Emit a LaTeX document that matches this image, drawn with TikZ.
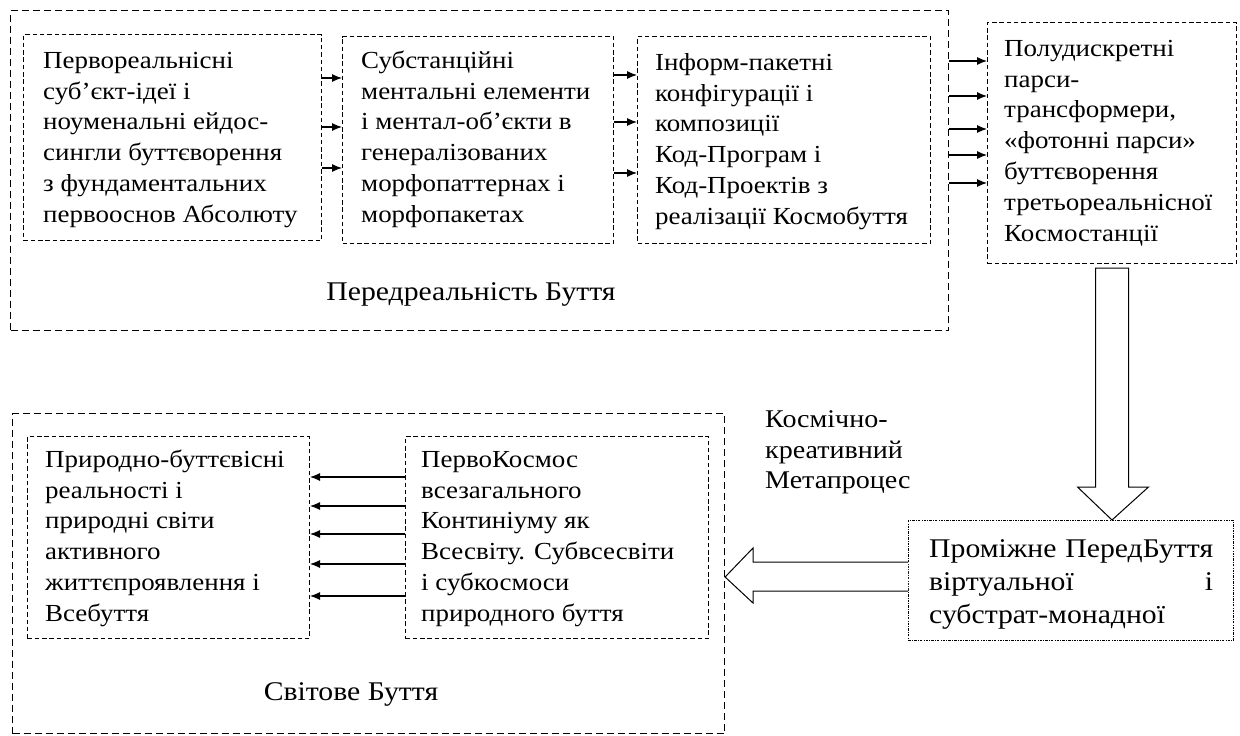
\documentclass[tikz,border=0pt]{standalone}
\usepackage{fontspec}
\setmainfont[FakeStretch=1.1]{Liberation Serif}
\usetikzlibrary{arrows.meta}
\newcommand{\mfs}{\fontsize{24.5}{30.8}\selectfont}
\newcommand{\lfs}{\fontsize{27}{30.8}\selectfont}
\newcommand{\kfs}{\fontsize{25.5}{30.8}\selectfont}
\newcommand{\bfs}{\fontsize{27}{33}\selectfont}
\tikzset{
  outerbox/.style={draw, line width=1.1pt, dash pattern=on 7pt off 4pt},
  innerbox/.style={draw, line width=1pt, dash pattern=on 4.5pt off 2.8pt},
  dotbox/.style={draw, line width=0.8pt, dash pattern=on 2.5pt off 1.2pt on 0.8pt off 1.2pt},
  txt/.style={anchor=north west, inner sep=0pt, align=left, font=\mfs, yshift=21.56pt},
  ktxt/.style={anchor=north west, inner sep=0pt, align=left, font=\kfs, yshift=21.56pt},
  btxt/.style={anchor=north west, inner sep=0pt, align=left, font=\bfs, yshift=23.1pt},
  lbl/.style={anchor=base, inner sep=0pt, font=\lfs},
  arr/.style={line width=1.1pt, -{Latex[length=10pt,width=8pt]}},
  fatarrow/.style={draw, line width=1pt, fill=white}
}
\begin{document}
\begin{tikzpicture}[x=1pt,y=-1pt]
\useasboundingbox (0,0) rectangle (1240,736);
% top group
\node[outerbox, anchor=north west, minimum width=938pt, minimum height=320pt, inner sep=0pt] (top) at (10,10) {};
\node[innerbox, anchor=north west, minimum width=298pt, minimum height=206pt, inner sep=0pt] (b1) at (23,34) {};
\node[innerbox, anchor=north west, minimum width=271pt, minimum height=207pt, inner sep=0pt] (b2) at (342,36) {};
\node[innerbox, anchor=north west, minimum width=293pt, minimum height=207pt, inner sep=0pt] (b3) at (637,36) {};
\node[innerbox, anchor=north west, minimum width=249pt, minimum height=241pt, inner sep=0pt] (b4) at (987,22) {};

\node[txt] (t1) at (43,68) {\strut Первореальнісні\\суб’єкт-ідеї і\\ноуменальні ейдос-\\сингли буттєворення\\з фундаментальних\\первооснов Абсолюту};
\node[txt] (t2) at (361,68) {\strut Субстанційні\\ментальні елементи\\і ментал-об’єкти в\\генералізованих\\морфопаттернах і\\морфопакетах};
\node[txt] (t3) at (655,70) {\strut Інформ-пакетні\\конфігурації і\\композиції\\Код-Програм і\\Код-Проектів з\\реалізації Космобуття};
\node[txt] (t4) at (1004,56) {\strut Полудискретні\\парси-\\трансформери,\\«фотонні парси»\\буттєворення\\третьореальнісної\\Космостанції};
\node[lbl] (l1) at (471,300) {Передреальність Буття};

\foreach \yy in {78,127,168} \draw[arr] (b1.east |- 0,\yy) -- (b2.west |- 0,\yy);
\foreach \yy in {75,122,173} \draw[arr] (b2.east |- 0,\yy) -- (b3.west |- 0,\yy);
\foreach \yy in {61,96,129,155,183} \draw[arr] (top.east |- 0,\yy) -- (b4.west |- 0,\yy);

% bottom group
\node[outerbox, anchor=north west, minimum width=712pt, minimum height=320pt, inner sep=0pt] (bot) at (12,413) {};
\node[innerbox, anchor=north west, minimum width=282pt, minimum height=202pt, inner sep=0pt] (ba) at (27,436) {};
\node[innerbox, anchor=north west, minimum width=303pt, minimum height=202pt, inner sep=0pt] (bb) at (405,436) {};
\node[txt] (ta) at (45,467) {\strut Природно-буттєвісні\\реальності і\\природні світи\\активного\\життєпроявлення і\\Всебуття};
\node[txt] (tb) at (421,467) {\strut ПервоКосмос\\всезагального\\Континіуму як\\Всесвіту. Субвсесвіти\\і субкосмоси\\природного буття};
\node[lbl] (l2) at (351,700) {Світове Буття};
\foreach \yy in {477,506,534,564,596} \draw[arr] (bb.west |- 0,\yy) -- (ba.east |- 0,\yy);

\node[ktxt] (meta) at (765,427) {\strut Космічно-\\креативний\\Метапроцес};

% intermediate box
\node[dotbox, anchor=north west, minimum width=325pt, minimum height=120pt, inner sep=0pt] (b5) at (908,520) {};
\node[btxt, text width=284pt] (t5) at (929,557) {\strut Проміжне ПередБуття\\віртуальної\hfill і\\субстрат-монадної};

% fat arrows
\coordinate (dtop) at (b4.south);
\draw[fatarrow] ([xshift=-16.5pt,yshift=-4pt]dtop) -- ([xshift=-16.5pt]dtop |- 0,487) -- ([xshift=-34.5pt]dtop |- 0,487)
  -- (b5.north -| dtop) -- ([xshift=36.5pt]dtop |- 0,487) -- ([xshift=16.5pt]dtop |- 0,487) -- ([xshift=16.5pt,yshift=-4pt]dtop) -- cycle;
\draw[fatarrow] (b5.west |- 0,562) -- (753,562) -- (753,548) -- (bot.east |- 0,577) -- (753,603) -- (753,591) -- (b5.west |- 0,591);
\end{tikzpicture}
\end{document}
